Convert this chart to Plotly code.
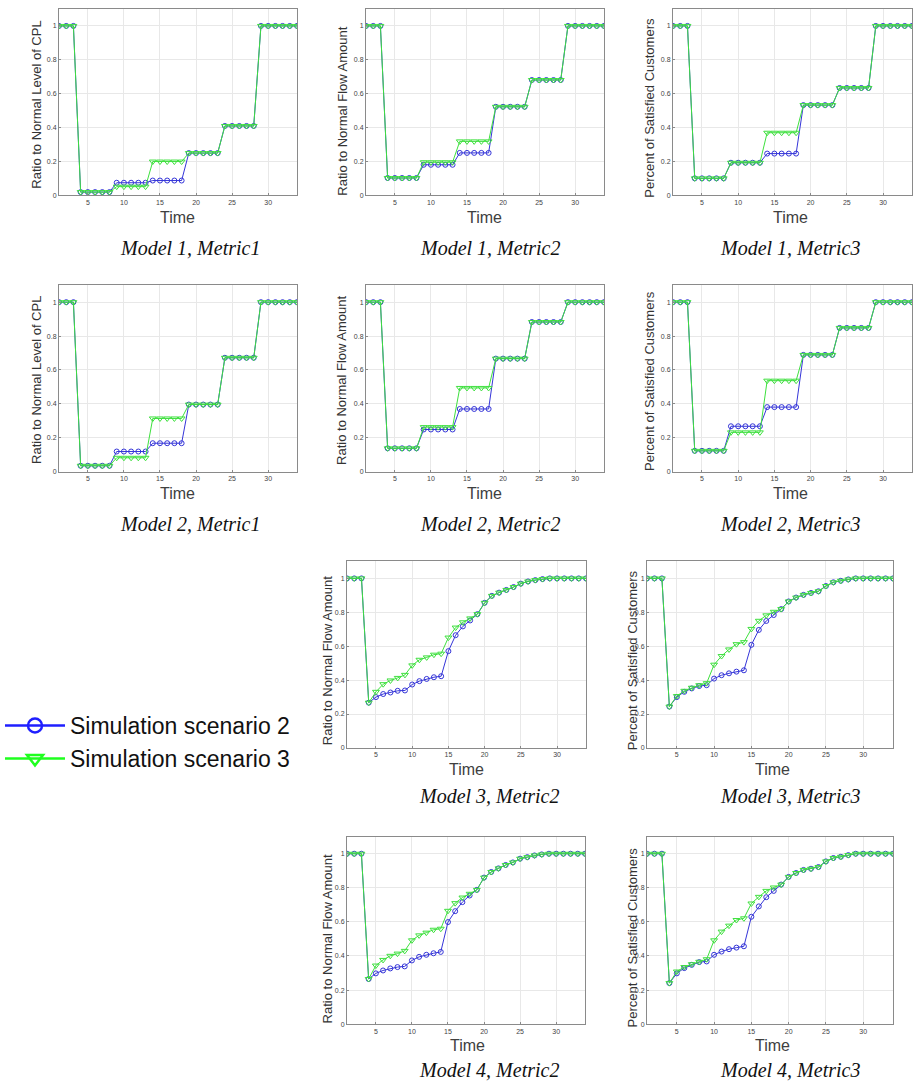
import plotly.graph_objects as go

time = list(range(1, 35))

m1_metric1_s2 = [1, 1, 1, 0.02, 0.02, 0.02, 0.02, 0.02, 0.075, 0.075, 0.075, 0.075, 0.075, 0.088, 0.088, 0.088, 0.088, 0.088, 0.25, 0.25, 0.25, 0.25, 0.25, 0.41, 0.41, 0.41, 0.41, 0.41, 1, 1, 1, 1, 1, 1]
m1_metric1_s3 = [1, 1, 1, 0.02, 0.02, 0.02, 0.02, 0.02, 0.052, 0.052, 0.052, 0.052, 0.052, 0.2, 0.2, 0.2, 0.2, 0.2, 0.25, 0.25, 0.25, 0.25, 0.25, 0.41, 0.41, 0.41, 0.41, 0.41, 1, 1, 1, 1, 1, 1]
m1_metric2_s2 = [1, 1, 1, 0.103, 0.103, 0.103, 0.103, 0.103, 0.181, 0.181, 0.181, 0.181, 0.181, 0.251, 0.251, 0.251, 0.251, 0.251, 0.523, 0.523, 0.523, 0.523, 0.523, 0.681, 0.681, 0.681, 0.681, 0.681, 1, 1, 1, 1, 1, 1]
m1_metric2_s3 = [1, 1, 1, 0.103, 0.103, 0.103, 0.103, 0.103, 0.196, 0.196, 0.196, 0.196, 0.196, 0.319, 0.319, 0.319, 0.319, 0.319, 0.523, 0.523, 0.523, 0.523, 0.523, 0.681, 0.681, 0.681, 0.681, 0.681, 1, 1, 1, 1, 1, 1]
m1_metric3_s2 = [1, 1, 1, 0.101, 0.101, 0.101, 0.101, 0.101, 0.193, 0.193, 0.193, 0.193, 0.193, 0.247, 0.247, 0.247, 0.247, 0.247, 0.533, 0.533, 0.533, 0.533, 0.533, 0.634, 0.634, 0.634, 0.634, 0.634, 1, 1, 1, 1, 1, 1]
m1_metric3_s3 = [1, 1, 1, 0.101, 0.101, 0.101, 0.101, 0.101, 0.193, 0.193, 0.193, 0.193, 0.193, 0.37, 0.37, 0.37, 0.37, 0.37, 0.533, 0.533, 0.533, 0.533, 0.533, 0.634, 0.634, 0.634, 0.634, 0.634, 1, 1, 1, 1, 1, 1]

m2_metric1_s2 = [1, 1, 1, 0.035, 0.035, 0.035, 0.035, 0.035, 0.119, 0.119, 0.119, 0.119, 0.119, 0.168, 0.168, 0.168, 0.168, 0.168, 0.396, 0.396, 0.396, 0.396, 0.396, 0.672, 0.672, 0.672, 0.672, 0.672, 1, 1, 1, 1, 1, 1]
m2_metric1_s3 = [1, 1, 1, 0.035, 0.035, 0.035, 0.035, 0.035, 0.082, 0.082, 0.082, 0.082, 0.082, 0.314, 0.314, 0.314, 0.314, 0.314, 0.396, 0.396, 0.396, 0.396, 0.396, 0.672, 0.672, 0.672, 0.672, 0.672, 1, 1, 1, 1, 1, 1]
m2_metric2_s2 = [1, 1, 1, 0.138, 0.138, 0.138, 0.138, 0.138, 0.249, 0.249, 0.249, 0.249, 0.249, 0.37, 0.37, 0.37, 0.37, 0.37, 0.667, 0.667, 0.667, 0.667, 0.667, 0.883, 0.883, 0.883, 0.883, 0.883, 1, 1, 1, 1, 1, 1]
m2_metric2_s3 = [1, 1, 1, 0.138, 0.138, 0.138, 0.138, 0.138, 0.263, 0.263, 0.263, 0.263, 0.263, 0.494, 0.494, 0.494, 0.494, 0.494, 0.667, 0.667, 0.667, 0.667, 0.667, 0.883, 0.883, 0.883, 0.883, 0.883, 1, 1, 1, 1, 1, 1]
m2_metric3_s2 = [1, 1, 1, 0.123, 0.123, 0.123, 0.123, 0.123, 0.268, 0.268, 0.268, 0.268, 0.268, 0.381, 0.381, 0.381, 0.381, 0.381, 0.689, 0.689, 0.689, 0.689, 0.689, 0.848, 0.848, 0.848, 0.848, 0.848, 1, 1, 1, 1, 1, 1]
m2_metric3_s3 = [1, 1, 1, 0.123, 0.123, 0.123, 0.123, 0.123, 0.232, 0.232, 0.232, 0.232, 0.232, 0.537, 0.537, 0.537, 0.537, 0.537, 0.689, 0.689, 0.689, 0.689, 0.689, 0.848, 0.848, 0.848, 0.848, 0.848, 1, 1, 1, 1, 1, 1]

m3_metric2_s2 = [1, 1, 1, 0.267, 0.30, 0.318, 0.327, 0.337, 0.339, 0.374, 0.394, 0.407, 0.417, 0.423, 0.571, 0.665, 0.717, 0.752, 0.789, 0.856, 0.897, 0.916, 0.932, 0.949, 0.969, 0.982, 0.99, 0.996, 1, 1, 1, 1, 1, 1]
m3_metric2_s3 = [1, 1, 1, 0.267, 0.331, 0.376, 0.398, 0.413, 0.431, 0.487, 0.52, 0.534, 0.55, 0.556, 0.651, 0.71, 0.741, 0.764, 0.789, 0.856, 0.897, 0.916, 0.932, 0.949, 0.969, 0.982, 0.99, 0.996, 1, 1, 1, 1, 1, 1]
m3_metric3_s2 = [1, 1, 1, 0.244, 0.30, 0.331, 0.351, 0.365, 0.37, 0.409, 0.429, 0.44, 0.45, 0.458, 0.608, 0.696, 0.749, 0.784, 0.819, 0.864, 0.887, 0.903, 0.914, 0.924, 0.955, 0.977, 0.986, 0.994, 1, 1, 1, 1, 1, 1]
m3_metric3_s3 = [1, 1, 1, 0.244, 0.306, 0.337, 0.355, 0.37, 0.382, 0.491, 0.542, 0.581, 0.612, 0.624, 0.702, 0.75, 0.782, 0.803, 0.819, 0.864, 0.887, 0.903, 0.914, 0.924, 0.955, 0.977, 0.986, 0.994, 1, 1, 1, 1, 1, 1]

m4_metric2_s2 = [1, 1, 1, 0.265, 0.298, 0.315, 0.327, 0.335, 0.339, 0.374, 0.395, 0.407, 0.416, 0.424, 0.599, 0.663, 0.716, 0.755, 0.788, 0.86, 0.893, 0.914, 0.934, 0.949, 0.971, 0.98, 0.99, 0.996, 1, 1, 1, 1, 1, 1]
m4_metric2_s3 = [1, 1, 1, 0.265, 0.344, 0.377, 0.401, 0.414, 0.43, 0.492, 0.521, 0.537, 0.554, 0.56, 0.665, 0.71, 0.743, 0.765, 0.788, 0.86, 0.893, 0.914, 0.934, 0.949, 0.971, 0.98, 0.99, 0.996, 1, 1, 1, 1, 1, 1]
m4_metric3_s2 = [1, 1, 1, 0.241, 0.298, 0.329, 0.348, 0.364, 0.368, 0.407, 0.426, 0.44, 0.449, 0.457, 0.63, 0.691, 0.745, 0.782, 0.819, 0.864, 0.887, 0.905, 0.912, 0.922, 0.955, 0.975, 0.982, 0.992, 1, 1, 1, 1, 1, 1]
m4_metric3_s3 = [1, 1, 1, 0.241, 0.309, 0.335, 0.352, 0.366, 0.381, 0.492, 0.543, 0.578, 0.611, 0.621, 0.708, 0.747, 0.782, 0.802, 0.819, 0.864, 0.887, 0.905, 0.912, 0.922, 0.955, 0.975, 0.982, 0.992, 1, 1, 1, 1, 1, 1]

y_titles = {
    "m1": "Ratio to Normal Level of CPL",
    "m2": "Ratio to Normal Flow Amount",
    "m3": "Percent of Satisfied Customers",
}
series_names = ["Simulation scenario 2", "Simulation scenario 3"]
x_tick_vals = [5, 10, 15, 20, 25, 30]
y_tick_vals = [0, 0.2, 0.4, 0.6, 0.8, 1]
y_tick_text = ["0", "0.2", "0.4", "0.6", "0.8", "1"]

# panel: (s2, s3, ytitle, caption, plot box px [x0,x1,y0,y1], ytitle px (x,y), time px (x,y), caption px (x,y))
panels = [
    (m1_metric1_s2, m1_metric1_s3, y_titles["m1"], "Model 1, Metric1", (59, 297, 9, 196), (37, 105), (177, 218), (190, 249)),
    (m1_metric2_s2, m1_metric2_s3, y_titles["m2"], "Model 1, Metric2", (366, 604, 9, 196), (343, 112), (485, 218), (490, 249)),
    (m1_metric3_s2, m1_metric3_s3, y_titles["m3"], "Model 1, Metric3", (673, 912, 9, 196), (650, 108), (790, 218), (790, 249)),
    (m2_metric1_s2, m2_metric1_s3, y_titles["m1"], "Model 2, Metric1", (59, 297, 286, 473), (37, 381), (177, 495), (190, 525)),
    (m2_metric2_s2, m2_metric2_s3, y_titles["m2"], "Model 2, Metric2", (366, 604, 286, 473), (342, 382), (485, 495), (490, 525)),
    (m2_metric3_s2, m2_metric3_s3, y_titles["m3"], "Model 2, Metric3", (673, 912, 286, 473), (650, 382), (790, 495), (790, 525)),
    (m3_metric2_s2, m3_metric2_s3, y_titles["m2"], "Model 3, Metric2", (347, 586, 563, 750), (327, 663), (466, 772), (489, 798)),
    (m3_metric3_s2, m3_metric3_s3, y_titles["m3"], "Model 3, Metric3", (647, 893, 563, 750), (632, 662), (772, 772), (790, 798)),
    (m4_metric2_s2, m4_metric2_s3, y_titles["m2"], "Model 4, Metric2", (347, 585, 839, 1027), (327, 942), (468, 1048), (489, 1073)),
    (m4_metric3_s2, m4_metric3_s3, y_titles["m3"], "Model 4, Metric3", (647, 893, 839, 1027), (632, 940), (772, 1048), (790, 1073)),
]

W, H = 913, 1087
BLUE = "#3535d8"
GREEN = "#3ee03e"
SANS = "Arial, Liberation Sans, sans-serif"
SERIF = "Times New Roman, Liberation Serif, serif"


def px(x):
    return x / W


def py(y):
    return 1 - y / H


fig = go.Figure()
layout = dict(
    width=W, height=H, autosize=False,
    margin=dict(l=0, r=0, t=0, b=0),
    paper_bgcolor="white", plot_bgcolor="white",
    showlegend=True,
    legend=dict(
        x=px(0), y=py(706), xanchor="left", yanchor="top",
        font=dict(family=SANS, size=23, color="#111"),
        itemwidth=60, tracegroupgap=0, bgcolor="rgba(0,0,0,0)",
    ),
)
annotations = []

for i, (s2, s3, ytitle, caption, box, ypos, tpos, cpos) in enumerate(panels):
    k = "" if i == 0 else str(i + 1)
    xa, ya = "x" + k, "y" + k
    x0, x1, y0, y1 = box
    axis_common = dict(
        showline=True, mirror=True, linecolor="#8a8a8a", linewidth=1,
        showgrid=True, gridcolor="#e8e8e8", gridwidth=1,
        ticks="inside", ticklen=2, tickcolor="#8a8a8a",
        tickfont=dict(family=SANS, size=7, color="#444"),
        zeroline=False, fixedrange=True,
    )
    layout["xaxis" + k] = dict(
        axis_common, domain=[px(x0), px(x1)], anchor=ya,
        range=[1, 34], tickvals=x_tick_vals,
    )
    layout["yaxis" + k] = dict(
        axis_common, domain=[py(y1), py(y0)], anchor=xa,
        range=[0, 1.1], tickvals=y_tick_vals, ticktext=y_tick_text,
    )
    fig.add_trace(go.Scatter(
        x=time, y=s2, xaxis=xa, yaxis=ya, mode="lines+markers",
        name=series_names[0], showlegend=False,
        line=dict(color=BLUE, width=1),
        marker=dict(symbol="circle-open", size=5, color=BLUE, line=dict(width=1)),
    ))
    fig.add_trace(go.Scatter(
        x=time, y=s3, xaxis=xa, yaxis=ya, mode="lines+markers",
        name=series_names[1], showlegend=False,
        line=dict(color=GREEN, width=1),
        marker=dict(symbol="triangle-down-open", size=6, color=GREEN, line=dict(width=1)),
    ))
    annotations.append(dict(
        text=ytitle, x=px(ypos[0]), y=py(ypos[1]), xref="paper", yref="paper",
        textangle=-90, showarrow=False, xanchor="center", yanchor="middle",
        font=dict(family=SANS, size=13, color="#333"),
    ))
    annotations.append(dict(
        text="Time", x=px(tpos[0]), y=py(tpos[1]), xref="paper", yref="paper",
        showarrow=False, xanchor="center", yanchor="middle",
        font=dict(family=SANS, size=16, color="#404040"),
    ))
    annotations.append(dict(
        text="<i>" + caption + "</i>", x=px(cpos[0]), y=py(cpos[1]), xref="paper", yref="paper",
        showarrow=False, xanchor="center", yanchor="middle",
        font=dict(family=SERIF, size=20, color="#111"),
    ))

# legend-only entries (no data points)
fig.add_trace(go.Scatter(
    x=[None], y=[None], mode="lines+markers", name=series_names[0],
    line=dict(color="#1f1fff", width=2.5),
    marker=dict(symbol="circle-open", size=14, color="#1f1fff", line=dict(width=2.5)),
))
fig.add_trace(go.Scatter(
    x=[None], y=[None], mode="lines+markers", name=series_names[1],
    line=dict(color="#1fff1f", width=2.5),
    marker=dict(symbol="triangle-down-open", size=14, color="#1fff1f", line=dict(width=2.5)),
))

layout["annotations"] = annotations
fig.update_layout(**layout)
fig.write_html(
    "out.html",
    config={"displayModeBar": False},
    post_script="document.body.style.margin='0';document.body.style.overflow='hidden';",
)
